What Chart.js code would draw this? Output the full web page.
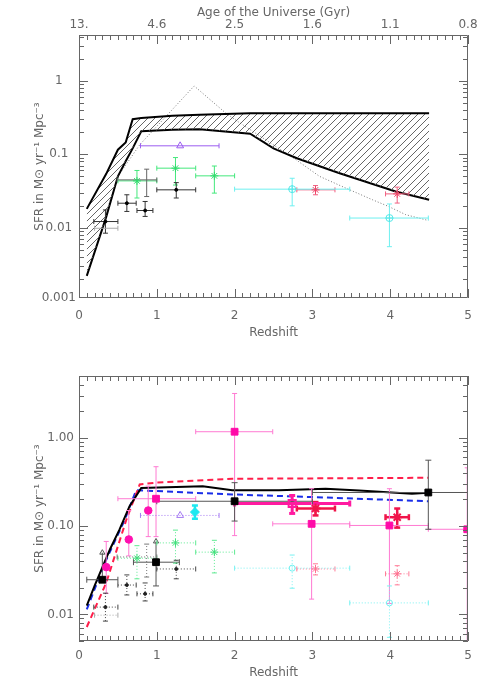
<!DOCTYPE html>
<html lang="en">
<head>
<meta charset="utf-8">
<title>SFR density vs redshift</title>
<script src="https://cdn.jsdelivr.net/npm/chart.js@4.4.1/dist/chart.umd.min.js"></script>
<style>
  body { margin: 0; background: #fff; }
  #wrap { position: relative; width: 492px; height: 692px; }
  canvas { position: absolute; left: 0; }
</style>
</head>
<body>
<div id="wrap">
  <canvas id="topPanel" width="492" height="346" style="top:0"></canvas>
  <canvas id="botPanel" width="492" height="346" style="top:346px"></canvas>
</div>
<script>
// ---- axes
const zTicks = [0, 1, 2, 3, 4, 5];
const ageLabels = ['13.', '4.6', '2.5', '1.6', '1.1', '0.8'];
const topYTicks = [0.0011, 0.01, 0.1, 1];
const topYLabels = ['0.001', '0.01', '0.1', '1'];
const botYTicks = [0.01, 0.1, 1];
const botYLabels = ['0.01', '0.10', '1.00'];

// ---- top panel: hatched band (upper / lower edge)
const bandZ  = [0.1, 0.35, 0.5, 0.6, 0.69, 0.8, 1.2, 1.55, 2.2, 2.5, 2.8, 3.35, 4.07, 4.5];
const bandHi = [0.018, 0.054, 0.115, 0.144, 0.30, 0.31, 0.335, 0.345, 0.36, 0.36, 0.36, 0.36, 0.36, 0.36];
const bandLo = [0.0022, 0.014, 0.05, 0.08, 0.12, 0.205, 0.215, 0.218, 0.19, 0.12, 0.088, 0.055, 0.031, 0.024];

// dotted model curve
const dotZ   = [0.35, 0.5, 0.78, 1.48, 1.89, 2.06, 2.79, 3.09, 3.43, 3.77, 3.98, 4.2, 4.49];
const dotSfr = [0.016, 0.05, 0.134, 0.85, 0.36, 0.27, 0.084, 0.05, 0.0345, 0.024, 0.0194, 0.015, 0.0125];

// ---- observational points (top panel, repeated dotted in bottom panel)
const crossZ = [0.34, 0.615, 0.85, 1.25];
const crossZLo = [0.19, 0.5, 0.745, 1.0];
const crossZHi = [0.5, 0.735, 0.95, 1.5];
const crossSfr = [0.0121, 0.0215, 0.0171, 0.0327];
const crossSfrLo = [0.0084, 0.0166, 0.0142, 0.0253];
const crossSfrHi = [0.0174, 0.028, 0.0227, 0.041];

const greyZ = [0.35], greyZLo = [0.2], greyZHi = [0.5], greySfr = [0.0098];

const bigZ = [0.87], bigZLo = [0.49], bigZHi = [1.0];
const bigSfr = [0.0447], bigSfrLo = [0.0265], bigSfrHi = [0.0625];

const greenZ = [0.745, 1.24, 1.74];
const greenZLo = [0.5, 1.0, 1.5];
const greenZHi = [1.0, 1.5, 2.0];
const greenSfr = [0.0433, 0.0645, 0.0507];
const greenSfrLo = [0.0253, 0.038, 0.0295];
const greenSfrHi = [0.06, 0.09, 0.069];

const purpleZ = [1.3], purpleZLo = [0.79], purpleZHi = [1.8], purpleSfr = [0.13];

const cyanZ = [2.74, 3.99];
const cyanZLo = [2.0, 3.48];
const cyanZHi = [3.48, 4.49];
const cyanSfr = [0.0334, 0.0135];
const cyanSfrLo = [0.0198, 0.0055];
const cyanSfrHi = [0.047, 0.021];

const redZ = [3.04, 4.09];
const redZLo = [2.8, 3.94];
const redZHi = [3.29, 4.24];
const redSfr = [0.0327, 0.0288];
const redSfrLo = [0.028, 0.0216];
const redSfrHi = [0.0374, 0.0356];

// ---- bottom panel: model curves
const solidZ   = [0.1, 0.2, 0.3, 0.4, 0.52, 0.65, 0.8, 1.59, 1.97, 2.57, 3.17, 3.6, 4.28, 4.49];
const solidSfr = [0.0126, 0.021, 0.034, 0.055, 0.091, 0.168, 0.27, 0.283, 0.255, 0.255, 0.264, 0.252, 0.232, 0.238];
const redDashZ   = [0.1, 0.35, 0.61, 0.78, 0.99, 1.97, 4.49];
const redDashSfr = [0.0072, 0.0228, 0.119, 0.296, 0.31, 0.343, 0.352];
const blueDashZ   = [0.1, 0.33, 0.59, 0.735, 1.97, 3.0, 4.49];
const blueDashSfr = [0.0114, 0.038, 0.119, 0.255, 0.228, 0.213, 0.191];

// ---- bottom panel: new points
const bkSqZ = [0.3, 0.99, 2.0, 4.49];
const bkSqZLo = [0.1, 0.7, 1.0, 3.0];
const bkSqZHi = [0.5, 1.29, 3.0, 5.0];
const bkSqSfr = [0.0247, 0.039, 0.191, 0.24];
const bkSqSfrLo = [0.0247, 0.021, 0.114, 0.092];
const bkSqSfrHi = [0.05, 0.067, 0.31, 0.557];
const bkSqLimit = [true, true, false, false];

const mgSqZ = [0.99, 2.0, 2.99, 3.99, 4.99];
const mgSqZLo = [0.5, 1.5, 2.49, 3.48, 4.49];
const mgSqZHi = [1.5, 2.49, 3.48, 4.49, 5.5];
const mgSqSfr = [0.204, 1.17, 0.106, 0.1016, 0.092];
const mgSqSfrLo = [0.076, 0.078, 0.0149, 0.0133, 0.004];
const mgSqSfrHi = [0.47, 3.17, 0.265, 0.265, 0.457];

const mgDotZ = [0.35, 0.64, 0.89];
const mgDotSfr = [0.0343, 0.0705, 0.15];
const mgDotSfrLo = [0.0173, 0.046, 0.076];
const mgDotSfrHi = [0.067, 0.15, 0.283];

const mgOpenZ = [2.74], mgOpenZLo = [2.0], mgOpenZHi = [3.48];
const mgOpenSfr = [0.18], mgOpenSfrLo = [0.139], mgOpenSfrHi = [0.222];

const rdThZ = [3.04, 4.09];
const rdThZLo = [2.8, 3.94];
const rdThZHi = [3.29, 4.24];
const rdThSfr = [0.158, 0.126];
const rdThSfrLo = [0.132, 0.096];
const rdThSfrHi = [0.187, 0.158];

const cyDiaZ = [1.49], cyDiaSfr = [0.144], cyDiaSfrLo = [0.121], cyDiaSfrHi = [0.171];
const purple2Sfr = [0.132];

Chart.defaults.font.family = "'DejaVu Sans', sans-serif";
Chart.defaults.font.size = 12;
Chart.defaults.color = '#666';

const pts = (xs, ys) => xs.map((x, i) => ({ x: x, y: ys[i] }));

function curve(xs, ys, color, width, dash) {
  return { data: pts(xs, ys), borderColor: color, borderWidth: width, borderDash: dash || [],
           pointRadius: 0, fill: false, tension: 0, order: 3 };
}

function bar(data, rot, s, style) {
  return { data: data, showLine: true, borderColor: s.color, borderWidth: s.width || 1,
           borderDash: s.dash || [], pointStyle: style || 'line', pointRotation: rot,
           pointRadius: s.cap == null ? 2.5 : s.cap, pointBorderColor: s.color,
           pointBackgroundColor: 'rgba(0,0,0,0)', pointBorderWidth: s.width || 1,
           fill: false, tension: 0, order: 1 };
}

function errorBars(z, zLo, zHi, sfr, sfrLo, sfrHi, s, limit) {
  const out = [];
  z.forEach((zi, i) => {
    if (zLo) out.push(bar([{ x: zLo[i], y: sfr[i] }, { x: zHi[i], y: sfr[i] }], 90, s));
    if (sfrLo) {
      const st = limit && limit[i] ? ['line', 'triangle'] : 'line';
      out.push(bar([{ x: zi, y: sfrLo[i] }, { x: zi, y: sfrHi[i] }], 0, s, st));
    }
  });
  return out;
}

function markers(z, sfr, s) {
  return { data: pts(z, sfr), showLine: false, pointStyle: s.shape, pointRadius: s.r,
           pointBorderColor: s.color, pointBackgroundColor: s.fill ? s.color : 'rgba(0,0,0,0)',
           pointBorderWidth: s.width || 1, order: 0 };
}

function hatchPattern() {
  const t = document.createElement('canvas');
  t.width = 7; t.height = 7;
  const g = t.getContext('2d');
  g.strokeStyle = '#555';
  g.lineWidth = 0.9;
  g.beginPath();
  g.moveTo(-1, 8); g.lineTo(8, -1);
  g.moveTo(-1, 1); g.lineTo(1, -1);
  g.moveTo(6, 8); g.lineTo(8, 6);
  g.stroke();
  return g.createPattern(t, 'repeat');
}

// IDL style frame with inward major/minor ticks
const idlFrame = {
  id: 'idlFrame',
  afterDraw(chart) {
    const { ctx, chartArea: a } = chart;
    const xs = chart.scales.x, ys = chart.scales.y;
    ctx.save();
    ctx.strokeStyle = '#666';
    ctx.lineWidth = 1;
    ctx.beginPath();
    ctx.rect(a.left + 0.5, a.top + 0.5, a.right - a.left - 1, a.bottom - a.top - 1);
    ctx.stroke();
    ctx.beginPath();
    for (let k = 0; k <= 50; k++) {
      const px = Math.round(xs.getPixelForValue(k / 10)) + 0.5;
      const len = k % 10 === 0 ? 9 : 5;
      ctx.moveTo(px, a.bottom); ctx.lineTo(px, a.bottom - len);
      ctx.moveTo(px, a.top); ctx.lineTo(px, a.top + len);
    }
    for (let d = Math.floor(Math.log10(ys.min)); d <= Math.ceil(Math.log10(ys.max)); d++) {
      for (let m = 1; m <= 9; m++) {
        const v = m * Math.pow(10, d);
        if (v < ys.min || v > ys.max) continue;
        const py = Math.round(ys.getPixelForValue(v)) + 0.5;
        const len = m === 1 ? 9 : 5;
        ctx.moveTo(a.left, py); ctx.lineTo(a.left + len, py);
        ctx.moveTo(a.right, py); ctx.lineTo(a.right - len, py);
      }
    }
    ctx.stroke();
    ctx.restore();
  }
};

const noGrid = { display: false, drawTicks: false };
const sfrTitle = 'SFR in M\u2299 yr\u207B\u00B9 Mpc\u207B\u00B3';

function xAxis(height, tickPad, titlePad) {
  return {
    type: 'linear', position: 'bottom', min: 0, max: 5,
    grid: noGrid, border: { display: false },
    afterBuildTicks: s => { s.ticks = zTicks.map(v => ({ value: v })); },
    afterFit: s => { s.height = height; },
    ticks: { padding: tickPad, maxRotation: 0, autoSkip: false, callback: v => String(v) },
    title: { display: true, text: 'Redshift', padding: { top: 0, bottom: titlePad } }
  };
}

function yAxis(min, max, vals, labels, tickPad) {
  return {
    type: 'logarithmic', min: min, max: max,
    grid: noGrid, border: { display: false },
    afterBuildTicks: s => { s.ticks = vals.map(v => ({ value: v })); },
    afterFit: s => { s.width = 79; },
    ticks: { padding: tickPad, crossAlign: 'center', autoSkip: false, callback: (v, i) => labels[i] },
    title: { display: true, text: sfrTitle, padding: { top: 33, bottom: 0 } }
  };
}

// ---- top panel
const hatch = hatchPattern();
const topSets = [
  { data: pts(bandZ, bandHi), borderColor: '#000', borderWidth: 2, pointRadius: 0,
    tension: 0, fill: '+1', backgroundColor: hatch, order: 3 },
  curve(bandZ, bandLo, '#000', 2),
  curve(dotZ, dotSfr, '#777', 1, [1, 2]),
  ...errorBars(greyZ, greyZLo, greyZHi, greySfr, null, null, { color: '#aaa' }),
  ...errorBars(bigZ, bigZLo, bigZHi, bigSfr, bigSfrLo, bigSfrHi, { color: '#666' }),
  ...errorBars(crossZ, crossZLo, crossZHi, crossSfr, crossSfrLo, crossSfrHi, { color: '#333' }),
  markers(crossZ, crossSfr, { shape: 'circle', r: 1.5, color: '#000', fill: true }),
  ...errorBars(greenZ, greenZLo, greenZHi, greenSfr, greenSfrLo, greenSfrHi, { color: '#44e87c' }),
  markers(greenZ, greenSfr, { shape: 'star', r: 4, color: '#2edc6c' }),
  ...errorBars(purpleZ, purpleZLo, purpleZHi, purpleSfr, null, null, { color: '#9b5cf0' }),
  markers(purpleZ, purpleSfr, { shape: 'triangle', r: 4, color: '#9b5cf0' }),
  ...errorBars(cyanZ, cyanZLo, cyanZHi, cyanSfr, cyanSfrLo, cyanSfrHi, { color: '#6ef0f0' }),
  markers(cyanZ, cyanSfr, { shape: 'circle', r: 3.5, color: '#55e8e8' }),
  markers(cyanZ, cyanSfr, { shape: 'cross', r: 4, color: '#55e8e8' }),
  ...errorBars(redZ, redZLo, redZHi, redSfr, redSfrLo, redSfrHi, { color: '#f06080' }),
  markers(redZ, redSfr, { shape: 'star', r: 4, color: '#ee4466' })
];

new Chart(document.getElementById('topPanel'), {
  type: 'line',
  data: { datasets: topSets },
  options: {
    responsive: false, animation: false, events: [],
    layout: { padding: { top: 0, right: 24, left: 0, bottom: 0 } },
    plugins: { legend: { display: false }, tooltip: { enabled: false } },
    scales: {
      x: xAxis(48, 11, 6),
      x2: {
        type: 'linear', position: 'top', min: 0, max: 5,
        grid: noGrid, border: { display: false },
        afterBuildTicks: s => { s.ticks = zTicks.map(v => ({ value: v })); },
        afterFit: s => { s.height = 35; },
        ticks: { padding: 3, maxRotation: 0, autoSkip: false, callback: (v, i) => ageLabels[i] },
        title: { display: true, text: 'Age of the Universe (Gyr)', padding: { top: 6, bottom: 0 } }
      },
      y: yAxis(0.0011, 4.2, topYTicks, topYLabels, 3)
    }
  },
  plugins: [idlFrame]
});

// ---- bottom panel
const dotted = [1, 2];
const botSets = [
  curve(solidZ, solidSfr, '#000', 2),
  curve(redDashZ, redDashSfr, '#ff1e4a', 2, [6, 4]),
  curve(blueDashZ, blueDashSfr, '#1a2ee8', 2, [6, 4]),
  ...errorBars(greyZ, greyZLo, greyZHi, greySfr, null, null, { color: '#aaa', dash: dotted }),
  ...errorBars(bigZ, bigZLo, bigZHi, bigSfr, bigSfrLo, bigSfrHi, { color: '#777', dash: dotted }),
  ...errorBars(crossZ, crossZLo, crossZHi, crossSfr, crossSfrLo, crossSfrHi, { color: '#444', dash: dotted }),
  markers(crossZ, crossSfr, { shape: 'circle', r: 1.5, color: '#222', fill: true }),
  ...errorBars(greenZ, greenZLo, greenZHi, greenSfr, greenSfrLo, greenSfrHi, { color: '#5eea92', dash: dotted }),
  markers(greenZ, greenSfr, { shape: 'star', r: 4, color: '#3ee07a' }),
  ...errorBars(purpleZ, purpleZLo, purpleZHi, purple2Sfr, null, null, { color: '#a57af2', dash: dotted }),
  markers(purpleZ, purple2Sfr, { shape: 'triangle', r: 4, color: '#a57af2' }),
  ...errorBars(cyanZ, cyanZLo, cyanZHi, cyanSfr, cyanSfrLo, cyanSfrHi, { color: '#7af2f2', dash: dotted }),
  markers(cyanZ, cyanSfr, { shape: 'circle', r: 3, color: '#6ef0f0' }),
  ...errorBars(redZ, redZLo, redZHi, redSfr, redSfrLo, redSfrHi, { color: '#ff7a96', dash: dotted }),
  markers(redZ, redSfr, { shape: 'star', r: 4, color: '#ff6f8f' }),
  ...errorBars(bkSqZ, bkSqZLo, bkSqZHi, bkSqSfr, bkSqSfrLo, bkSqSfrHi, { color: '#555', cap: 3 }, bkSqLimit),
  markers(bkSqZ, bkSqSfr, { shape: 'rect', r: 4.8, color: '#000', fill: true }),
  ...errorBars(mgSqZ, mgSqZLo, mgSqZHi, mgSqSfr, mgSqSfrLo, mgSqSfrHi, { color: '#ff7ad2' }),
  markers(mgSqZ, mgSqSfr, { shape: 'rect', r: 4.8, color: '#ff0aa8', fill: true }),
  ...errorBars(mgDotZ, null, null, mgDotSfr, mgDotSfrLo, mgDotSfrHi, { color: '#ff7ad2' }),
  markers(mgDotZ, mgDotSfr, { shape: 'circle', r: 3.8, color: '#ff10b0', fill: true }),
  ...errorBars(mgOpenZ, mgOpenZLo, mgOpenZHi, mgOpenSfr, mgOpenSfrLo, mgOpenSfrHi, { color: '#ff1aa0', width: 3, cap: 3 }),
  markers(mgOpenZ, mgOpenSfr, { shape: 'rect', r: 5, color: '#ff1aa0', width: 2 }),
  ...errorBars(rdThZ, rdThZLo, rdThZHi, rdThSfr, rdThSfrLo, rdThSfrHi, { color: '#f0144a', width: 2.5, cap: 3 }),
  markers(rdThZ, rdThSfr, { shape: 'star', r: 5, color: '#f0144a', width: 2 }),
  ...errorBars(cyDiaZ, null, null, cyDiaSfr, cyDiaSfrLo, cyDiaSfrHi, { color: '#1ee8f0', width: 2.5, cap: 3 }),
  markers(cyDiaZ, cyDiaSfr, { shape: 'rectRot', r: 4.5, color: '#1ee8f0', fill: true })
];

new Chart(document.getElementById('botPanel'), {
  type: 'line',
  data: { datasets: botSets },
  options: {
    responsive: false, animation: false, events: [],
    layout: { padding: { top: 30, right: 24, left: 0, bottom: 0 } },
    plugins: { legend: { display: false }, tooltip: { enabled: false } },
    scales: {
      x: xAxis(51, 8, 12),
      y: yAxis(0.005, 5, botYTicks, botYLabels, 5)
    }
  },
  plugins: [idlFrame]
});
</script>
</body>
</html>
